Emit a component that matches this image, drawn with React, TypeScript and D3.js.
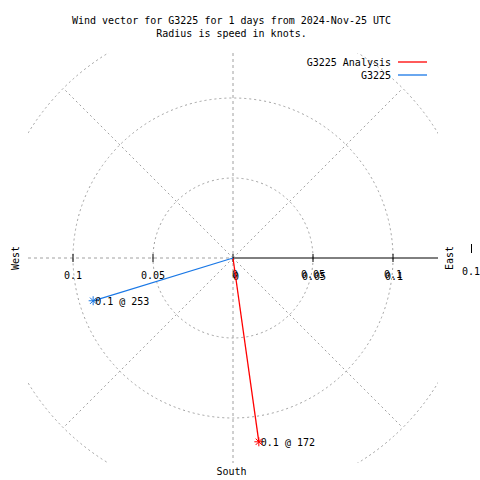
import React from "react";
import * as d3 from "d3";

const titleLines = ["Wind vector for G3225 for 1 days from 2024-Nov-25 UTC", "Radius is speed in knots."];
const seriesNames = ["G3225 Analysis", "G3225"];
const seriesSpeeds = [0.116, 0.0914];
const seriesDirections = [172, 253];
const seriesColors = ["#ff0000", "#1a78e6"];
const ringValues = [0.05, 0.1, 0.15];
const tickValues = [0.05, 0.1];
const spokeAngles = [45, 135, 225, 315];

const W = 480;
const cx = 233;
const cy = 258;
const half = 205;
const r = d3.scaleLinear().domain([0, 0.128125]).range([0, half]);
const FONT = "'DejaVu Sans Mono', 'Liberation Mono', monospace";
const GRID = "#a0a0a0";

function polar(speed: number, deg: number) {
  const a = (deg * Math.PI) / 180;
  return [cx + r(speed) * Math.sin(a), cy - r(speed) * Math.cos(a)];
}

function Star({ x, y, color }: { x: number; y: number; color: string }) {
  const s = 4.5;
  const lines = d3.range(8).map((i) => {
    const a = (i * Math.PI) / 4;
    return [x, y, x + s * Math.cos(a), y + s * Math.sin(a)];
  });
  return (
    <g stroke={color} strokeWidth={1}>
      {lines.map((l, i) => (
        <line key={i} x1={l[0]} y1={l[1]} x2={l[2]} y2={l[3]} />
      ))}
    </g>
  );
}

export default function App() {
  const fmt = d3.format(".1f");
  const fmtTick = (v: number) => (v === 0.05 ? "0.05" : fmt(v));
  return (
    <svg
      width={W}
      height={W}
      style={{ position: "absolute", left: 0, top: 0, background: "#fff" }}
      fontFamily={FONT}
      fontSize={10}
    >
      <defs>
        <clipPath id="plotClip">
          <rect x={cx - half} y={cy - half} width={half * 2} height={half * 2} />
        </clipPath>
      </defs>
      <g textAnchor="middle" fill="#000">
        <text x={231.5} y={24}>{titleLines[0]}</text>
        <text x={231.5} y={37}>{titleLines[1]}</text>
      </g>
      <g clipPath="url(#plotClip)" fill="none" stroke={GRID} strokeDasharray="2,3">
        {ringValues.map((v) => (
          <circle key={v} cx={cx} cy={cy} r={r(v)} />
        ))}
        {spokeAngles.map((a) => {
          const [x2, y2] = polar(0.15, a);
          return <line key={a} x1={cx} y1={cy} x2={x2} y2={y2} />;
        })}
        <line x1={cx} y1={cy - half} x2={cx} y2={cy + half} strokeDasharray="3,3" />
        <line x1={cx - half} y1={cy} x2={cx} y2={cy} strokeDasharray="3,3" />
      </g>
      <line x1={cx} y1={cy} x2={cx + half} y2={cy} stroke="#000" />
      <g stroke="#000">
        {[0, ...tickValues].map((v) => (
          <line key={"r" + v} x1={cx + r(v)} x2={cx + r(v)} y1={cy - 4} y2={cy + 4} />
        ))}
        {tickValues.map((v) => (
          <line key={"l" + v} x1={cx - r(v)} x2={cx - r(v)} y1={cy - 4} y2={cy + 4} />
        ))}
      </g>
      <g textAnchor="middle" fill="#000">
        {tickValues.map((v) => (
          <text key={"lt" + v} x={cx - r(v)} y={cy + 21}>{fmtTick(v)}</text>
        ))}
        {[0, ...tickValues].map((v) => (
          <g key={"rt" + v}>
            <text x={cx + r(v) + (v === 0 ? 2 : 0)} y={cy + 20}>{v === 0 ? "0" : fmtTick(v)}</text>
            <text x={cx + r(v) + (v === 0 ? 3 : 1)} y={cy + 22}>{v === 0 ? "0" : fmtTick(v)}</text>
          </g>
        ))}
      </g>
      {seriesNames.map((name, i) => {
        const [x, y] = polar(seriesSpeeds[i], seriesDirections[i]);
        return (
          <g key={name}>
            <line x1={cx} y1={cy} x2={x} y2={y} stroke={seriesColors[i]} strokeWidth={1.3} />
            <Star x={x} y={y} color={seriesColors[i]} />
            <text x={x + 2} y={y + 4} fill="#000">
              {`${fmt(seriesSpeeds[i])} @ ${seriesDirections[i]}`}
            </text>
          </g>
        );
      })}
      {seriesNames.map((name, i) => (
        <g key={"leg" + name}>
          <text x={391} y={66 + i * 13} textAnchor="end" fill="#000">{name}</text>
          <line x1={398} x2={427} y1={62 + i * 13} y2={62 + i * 13} stroke={seriesColors[i]} strokeWidth={1.3} />
        </g>
      ))}
      <g fill="#000" textAnchor="middle">
        <text transform={`translate(19,${cy}) rotate(-90)`}>West</text>
        <text transform={`translate(453,${cy}) rotate(-90)`}>East</text>
        <text x={231.5} y={475}>South</text>
        <line x1={471.5} x2={471.5} y1={244} y2={253} stroke="#000" />
        <text x={471} y={275}>0.1</text>
      </g>
    </svg>
  );
}
